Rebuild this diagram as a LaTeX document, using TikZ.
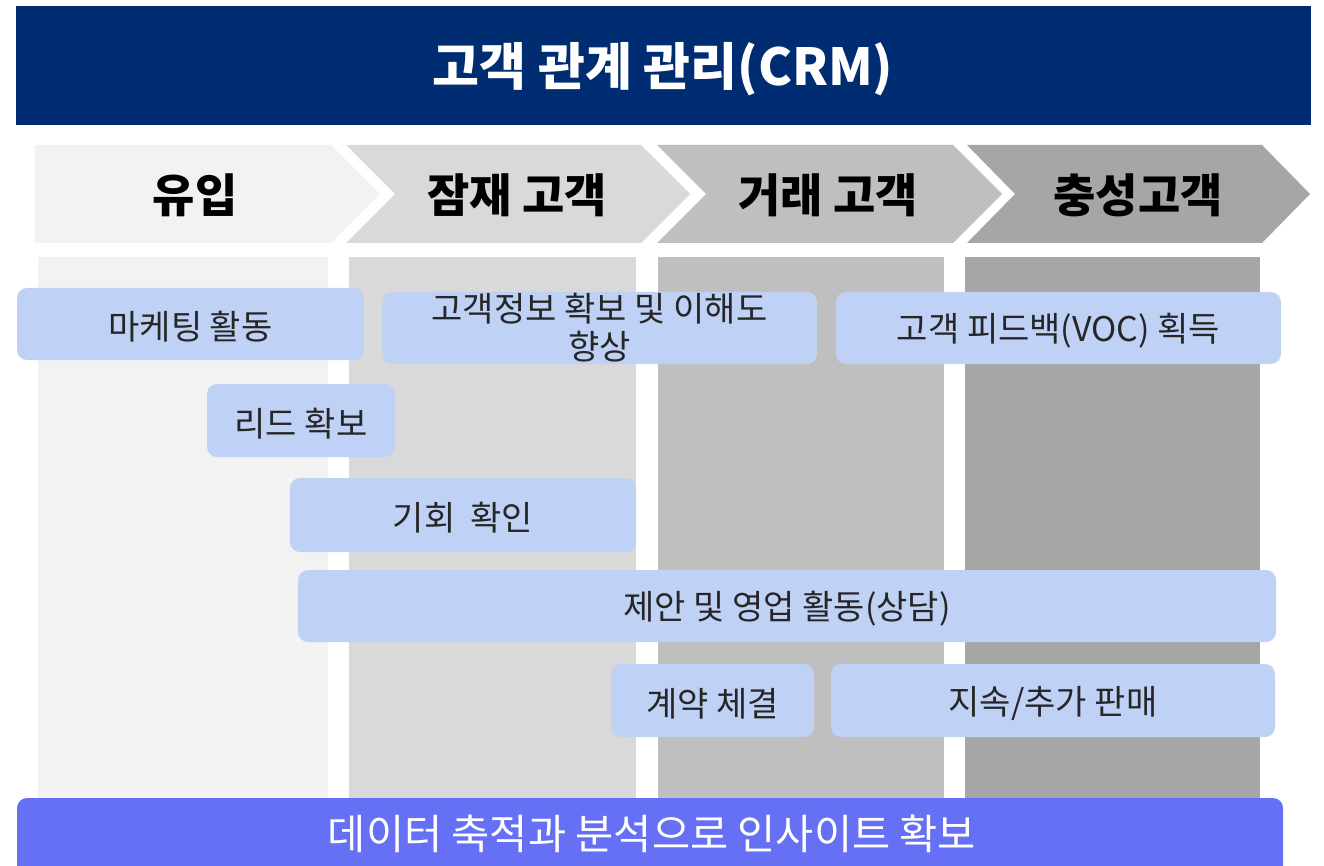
\documentclass[tikz,border=0pt]{standalone}
\usepackage{fontspec}
\setmainfont{Noto Sans CJK KR}
\definecolor{navy}{RGB}{0,45,114}
\definecolor{g1}{RGB}{242,242,242}
\definecolor{g2}{RGB}{217,217,217}
\definecolor{g3}{RGB}{191,191,191}
\definecolor{g4}{RGB}{166,166,166}
\definecolor{boxblue}{RGB}{191,209,245}
\definecolor{barblue}{RGB}{102,112,245}
\definecolor{txt}{RGB}{38,38,38}
\newcommand{\lowtxt}[1]{\raisebox{-3pt}[\height][\depth]{#1}}
\tikzset{
  chevlabel/.style={font=\fontsize{46}{48}\selectfont\bfseries, text=black, inner sep=0},
  stagebox/.style={fill=boxblue, draw=none, rounded corners=10pt, inner sep=0,
     font=\fontsize{34}{38}\selectfont, text=txt, align=center},
}
\begin{document}
\begin{tikzpicture}[x=1pt,y=-1pt]
\useasboundingbox (0,0) rectangle (1324,866);
\fill[white] (0,0) rectangle (1324,866);
% title
\fill[navy] (16,6) rectangle (1311,125);
\node[inner sep=0, text=white, font=\fontsize{51}{54}\selectfont\bfseries] (title) at (663,69) {고객 관계 관리(CRM)};
% chevrons
\fill[g1] (35,145) -- (331,145) -- (380,194) -- (331,243) -- (35,243) -- cycle;
\fill[g2] (346,145) -- (641,145) -- (690,194) -- (641,243) -- (346,243) -- (395,194) -- cycle;
\fill[g3] (657,145) -- (953,145) -- (1002,194) -- (953,243) -- (657,243) -- (706,194) -- cycle;
\fill[g4] (967,145) -- (1262,145) -- (1310,194) -- (1262,243) -- (967,243) -- (1015,194) -- cycle;
\node[chevlabel] (c1) at (195,195) {유입};
\node[chevlabel] (c2) at (517,195) {잠재 고객};
\node[chevlabel] (c3) at (828,195) {거래 고객};
\node[chevlabel] (c4) at (1138,195) {충성고객};
% lanes
\fill[g1] (38,257) rectangle (328,810);
\fill[g2] (349,257) rectangle (636,810);
\fill[g3] (658,257) rectangle (944,810);
\fill[g4] (965,257) rectangle (1260,810);
% stage boxes
\node[stagebox, minimum width=347pt, minimum height=72pt] (b1) at (190.5,324) {\lowtxt{마케팅 활동}};
\node[stagebox, minimum width=435pt, minimum height=72pt] (b2) at (599.5,328) {고객정보 확보 및 이해도\\향상};
\node[stagebox, minimum width=445pt, minimum height=72pt] (b3) at (1058.5,328) {\lowtxt{고객 피드백(VOC) 획득}};
\node[stagebox, minimum width=188pt, minimum height=73pt] (b4) at (301,420.5) {\lowtxt{리드 확보}};
\node[stagebox, minimum width=346pt, minimum height=74pt] (b5) at (463,515) {\lowtxt{기회~~확인}};
\node[stagebox, minimum width=978pt, minimum height=72pt] (b6) at (787,606) {\lowtxt{제안 및 영업 활동(상담)}};
\node[stagebox, minimum width=203pt, minimum height=73pt] (b7) at (712.5,700.5) {\lowtxt{계약 체결}};
\node[stagebox, minimum width=444pt, minimum height=73pt] (b8) at (1053,700.5) {\lowtxt{지속/추가 판매}};
% bottom bar
\fill[barblue, rounded corners=10pt] (17,798) rectangle (1283,890);
\node[text=white, font=\fontsize{41.5}{44}\selectfont, inner sep=0] (bar) at (652,834) {데이터 축적과 분석으로 인사이트 확보};
\end{tikzpicture}
\end{document}
